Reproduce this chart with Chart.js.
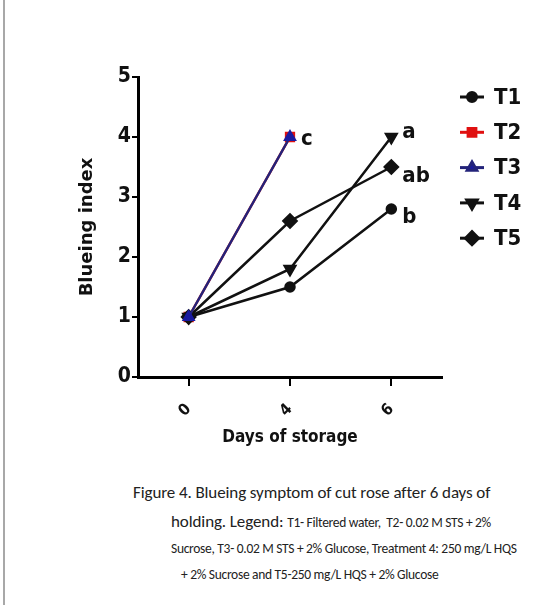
<!DOCTYPE html>
<html lang="en">
<head>
  <meta charset="UTF-8">
  <title>Blueing index</title>
  <script src="https://cdn.jsdelivr.net/npm/chart.js"></script>
  <style>
    body { margin: 0; background: #fff; width: 544px; height: 605px; overflow: hidden; position: relative; }
    #edge { position: absolute; left: 3px; top: 0; width: 2px; height: 605px; background: #a8a8a8; }
    #wrap { position: absolute; left: 0; top: 0; width: 544px; height: 460px; }
    .cap { position: absolute; font-family: Carlito, "Open Sans", sans-serif; color: #222; white-space: nowrap; }
    .big { font-size: 17px; letter-spacing: -0.1px; }
    .small { font-size: 13.5px; letter-spacing: -0.3px; }
  </style>
</head>
<body>
  <div id="edge"></div>
  <div id="wrap"><canvas id="myChart"></canvas></div>
  <div class="cap big" style="left:133px; top:482px;">Figure 4. Blueing symptom of cut rose after 6 days of</div>
  <div class="cap" style="left:171px; top:511px;"><span class="big">holding. Legend: </span> <span class="small">T1- Filtered water,&nbsp; T2- 0.02 M STS + 2%</span></div>
  <div class="cap small" style="left:171px; top:540px;">Sucrose, T3- 0.02 M STS + 2% Glucose, Treatment 4: 250 mg/L HQS</div>
  <div class="cap small" style="left:181px; top:566px;">+ 2% Sucrose and T5-250 mg/L HQS + 2% Glucose</div>

  <script>
    // data
    const days = ['0', '4', '6'];
    const seriesNames = ['T1', 'T2', 'T3', 'T4', 'T5'];
    const t1 = [1, 1.5, 2.8];
    const t2 = [1, 4, null];
    const t3 = [1, 4, null];
    const t4 = [1, 1.8, 4];
    const t5 = [1, 2.6, 3.5];
    const sigLetters = ['b', 'c', '', 'a', 'ab'];
    const yTicks = [0, 1, 2, 3, 4, 5];

    const narrow = '"DejaVu Sans Condensed", "Liberation Sans Narrow", sans-serif';

    // letters next to the last point of each line
    const letterPlugin = {
      id: 'letters',
      afterDatasetsDraw(chart) {
        const ctx = chart.ctx;
        ctx.save();
        ctx.font = 'bold 22px ' + narrow;
        ctx.fillStyle = '#111';
        ctx.textBaseline = 'middle';
        chart.data.datasets.forEach((ds, i) => {
          const txt = sigLetters[i];
          if (!txt) return;
          let last = -1;
          ds.data.forEach((v, j) => { if (v !== null) last = j; });
          const x = chart.scales.x.getPixelForValue(last);
          const y = chart.scales.y.getPixelForValue(ds.data[last]);
          let dx = 11, dy = 2;
          if (txt === 'a') dy = -5;
          if (txt === 'ab') dy = 9;
          if (txt === 'b') dy = 8;
          ctx.fillText(txt, x + dx, y + dy);
        });
        ctx.restore();
      }
    };

    // legend with a line through each marker, like the original
    const sideLegend = {
      id: 'sideLegend',
      afterDraw(chart) {
        const ctx = chart.ctx;
        ctx.save();
        chart.data.datasets.forEach((ds, i) => {
          const y = 97 + i * 35.3;
          ctx.strokeStyle = ds.borderColor;
          ctx.lineWidth = 3;
          ctx.beginPath();
          ctx.moveTo(460, y);
          ctx.lineTo(484, y);
          ctx.stroke();
          ctx.fillStyle = ds.pointBackgroundColor;
          Chart.helpers.drawPoint(ctx, {
            pointStyle: ds.pointStyle,
            rotation: ds.pointRotation || 0,
            radius: ds.pointRadius,
            borderWidth: 1
          }, 472, y);
          ctx.fillStyle = '#111';
          ctx.font = 'bold 22px ' + narrow;
          ctx.textBaseline = 'middle';
          ctx.fillText(ds.label, 494, y + 1);
        });
        ctx.restore();
      }
    };

    function makeSet(label, data, color, lineColor, style, radius, rot, order) {
      return {
        label: label,
        data: data,
        borderColor: lineColor,
        backgroundColor: color,
        pointBackgroundColor: color,
        pointBorderColor: color,
        pointStyle: style,
        pointRadius: radius,
        pointRotation: rot,
        borderWidth: 2.5,
        tension: 0,
        spanGaps: false,
        order: order
      };
    }

    document.addEventListener('DOMContentLoaded', function() {
      const ctx = document.getElementById('myChart').getContext('2d');
      const colors = ['#111', '#e01010', '#1a1aa0', '#111', '#111'];
      const lines = ['#111', '#e01010', '#23237a', '#111', '#111'];
      const styles = ['circle', 'rect', 'triangle', 'triangle', 'rectRot'];
      const radii = [4.5, 5.5, 5.5, 6, 6.5];
      const rots = [0, 0, 0, 180, 0];
      const orders = [1, 2, 0, 1, 1];
      const allData = [t1, t2, t3, t4, t5];

      const config = {
        type: 'line',
        data: {
          labels: days,
          datasets: seriesNames.map((n, i) =>
            makeSet(n, allData[i], colors[i], lines[i], styles[i], radii[i], rots[i], orders[i]))
        },
        options: {
          responsive: true,
          maintainAspectRatio: false,
          animation: false,
          layout: { padding: { top: 77, right: 102, left: 0, bottom: 0 } },
          plugins: {
            legend: { display: false },
            tooltip: { enabled: false }
          },
          scales: {
            x: {
              type: 'category',
              offset: true,
              border: { color: '#000', width: 3 },
              grid: { display: true, drawOnChartArea: false, offset: false, color: '#000', lineWidth: 2, tickLength: 9 },
              ticks: {
                color: '#111',
                font: { family: narrow, size: 16, weight: 'bold' },
                minRotation: 45,
                maxRotation: 45,
                padding: 14
              },
              title: {
                display: true,
                text: 'Days of storage',
                color: '#111',
                font: { family: narrow, size: 17, weight: 'bold' },
                padding: { top: 0, bottom: 12 }
              },
              afterFit: s => { s.height = 83; }
            },
            y: {
              min: 0,
              max: 5,
              border: { color: '#000', width: 3 },
              grid: { display: true, drawOnChartArea: false, color: '#000', lineWidth: 2, tickLength: 6 },
              afterBuildTicks: s => { s.ticks = yTicks.map(v => ({ value: v })); },
              ticks: {
                color: '#111',
                font: { family: narrow, size: 21, weight: 'bold' },
                padding: 1
              },
              title: {
                display: true,
                text: 'Blueing index',
                color: '#111',
                font: { family: '"DejaVu Sans", sans-serif', size: 18, weight: 'bold' },
                padding: { top: 77, bottom: 0 }
              },
              afterFit: s => { s.width = 138; }
            }
          }
        },
        plugins: [letterPlugin, sideLegend]
      };

      new Chart(ctx, config);
    });
  </script>
</body>
</html>
